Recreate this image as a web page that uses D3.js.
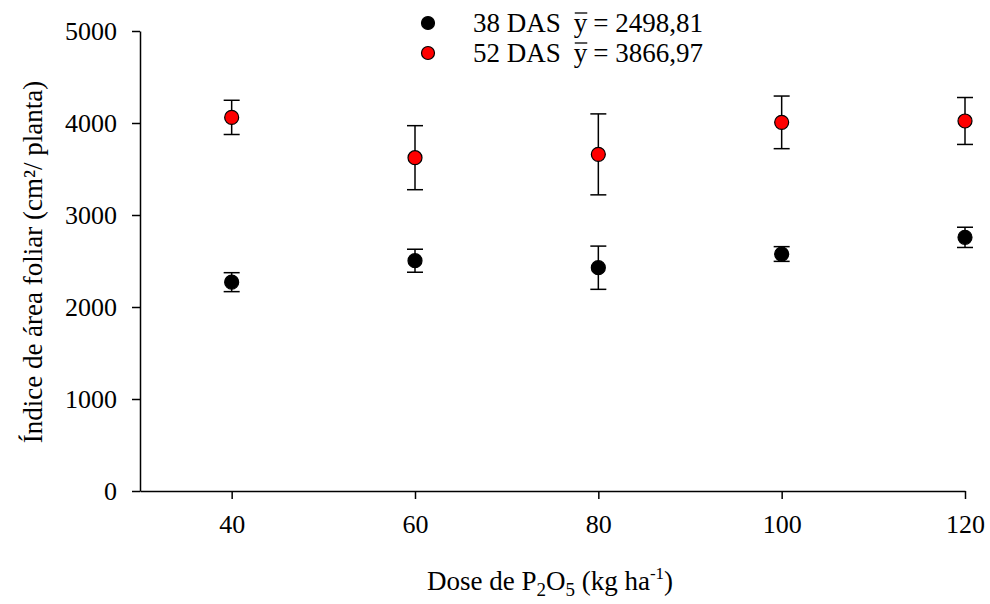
<!DOCTYPE html>
<html>
<head>
<meta charset="utf-8">
<script src="https://cdn.jsdelivr.net/npm/d3@7"></script>
<style>
  body { margin: 0; background: #fff; }
  svg text { font-family: "Liberation Serif", "Times New Roman", serif !important; fill: #000; }
</style>
</head>
<body>
<script>
//Data
var doses = [40, 60, 80, 100, 120];
var das38 = [2270, 2503, 2427, 2576, 2757];
var das38Err = [103, 125, 235, 80, 110];
var das52 = [4061, 3623, 3659, 4007, 4022];
var das52Err = [186, 348, 440, 286, 255];
var yTicks = [0, 1000, 2000, 3000, 4000, 5000];
var legendLabels = ["38 DAS", "52 DAS"];
var legendMeans = ["2498,81", "3866,97"];
var colors = ["#000000", "#ff0000"];

var width = 990, height = 604;
var plotLeft = 140, plotRight = 965, plotTop = 31, plotBottom = 491;
var tickFont = 26, titleFont = 27;

var x = d3.scaleLinear().domain([30, 120]).range([plotLeft, plotRight]);
var y = d3.scaleLinear().domain([0, 5000]).range([plotBottom, plotTop]);

var svg = d3.select("body").append("svg")
  .attr("width", width)
  .attr("height", height);

//Axes
var yAxis = svg.append("g")
  .attr("transform", "translate(" + plotLeft + ",0)")
  .call(d3.axisLeft(y).tickValues(yTicks).tickFormat(d3.format("d"))
    .tickSize(8).tickPadding(15).tickSizeOuter(0));

var xAxis = svg.append("g")
  .attr("transform", "translate(0," + plotBottom + ")")
  .call(d3.axisBottom(x).tickValues(doses).tickFormat(d3.format("d"))
    .tickSize(8).tickPadding(16).tickSizeOuter(0));

[yAxis, xAxis].forEach(function (g) {
  g.attr("font-family", null).attr("font-size", null);
  g.selectAll("text").style("font-size", tickFont + "px");
  g.selectAll("line, path").attr("stroke", "#000").attr("stroke-width", 1.5);
});

//Series
var series = [
  { vals: das38, err: das38Err, color: colors[0] },
  { vals: das52, err: das52Err, color: colors[1] }
];

series.forEach(function (s) {
  var pts = doses.map(function (d, i) { return { x: d, y: s.vals[i], e: s.err[i] }; });
  var g = svg.append("g");

  g.selectAll(".bar").data(pts).enter().append("line")
    .attr("x1", function (d) { return x(d.x); })
    .attr("x2", function (d) { return x(d.x); })
    .attr("y1", function (d) { return y(d.y - d.e); })
    .attr("y2", function (d) { return y(d.y + d.e); })
    .attr("stroke", "#000").attr("stroke-width", 1.5);

  [-1, 1].forEach(function (sign) {
    g.selectAll(".cap" + sign).data(pts).enter().append("line")
      .attr("x1", function (d) { return x(d.x) - 8; })
      .attr("x2", function (d) { return x(d.x) + 8; })
      .attr("y1", function (d) { return y(d.y + sign * d.e); })
      .attr("y2", function (d) { return y(d.y + sign * d.e); })
      .attr("stroke", "#000").attr("stroke-width", 1.5);
  });

  g.selectAll("circle").data(pts).enter().append("circle")
    .attr("cx", function (d) { return x(d.x); })
    .attr("cy", function (d) { return y(d.y); })
    .attr("r", 7)
    .attr("fill", s.color)
    .attr("stroke", "#000").attr("stroke-width", 1.2);
});

//Legend: label, then y with a bar over it, then the mean
legendLabels.forEach(function (lab, i) {
  var ly = 23 + i * 30;
  var base = ly + 9;
  svg.append("circle")
    .attr("cx", 428).attr("cy", ly).attr("r", 6.5)
    .attr("fill", colors[i]).attr("stroke", "#000").attr("stroke-width", 1.2);

  var t1 = svg.append("text").attr("x", 473).attr("y", base)
    .style("font-size", titleFont + "px").text(lab);
  var yx = 473 + t1.node().getComputedTextLength() + 13;
  var t2 = svg.append("text").attr("x", yx).attr("y", base)
    .style("font-size", titleFont + "px").text("y");
  var yw = t2.node().getComputedTextLength();
  svg.append("line")
    .attr("x1", yx + 1).attr("x2", yx + yw)
    .attr("y1", base - 19).attr("y2", base - 19)
    .attr("stroke", "#000").attr("stroke-width", 1.3);
  svg.append("text").attr("x", yx + yw + 6).attr("y", base)
    .style("font-size", titleFont + "px").text("= " + legendMeans[i]);
});

//Axis titles
svg.append("text")
  .attr("transform", "translate(42,262) rotate(-90)")
  .attr("text-anchor", "middle")
  .style("font-size", titleFont + "px")
  .text("Índice de área foliar (cm²/ planta)");

var xt = svg.append("text")
  .attr("x", 550).attr("y", 590)
  .attr("text-anchor", "middle")
  .style("font-size", titleFont + "px");
xt.append("tspan").text("Dose de P");
xt.append("tspan").attr("dy", 6).style("font-size", "19px").text("2");
xt.append("tspan").attr("dy", -6).text("O");
xt.append("tspan").attr("dy", 6).style("font-size", "19px").text("5");
xt.append("tspan").attr("dy", -6).text(" (kg ha");
xt.append("tspan").attr("dy", -11).style("font-size", "17px").text("-1");
xt.append("tspan").attr("dy", 11).text(")");
</script>
</body>
</html>
